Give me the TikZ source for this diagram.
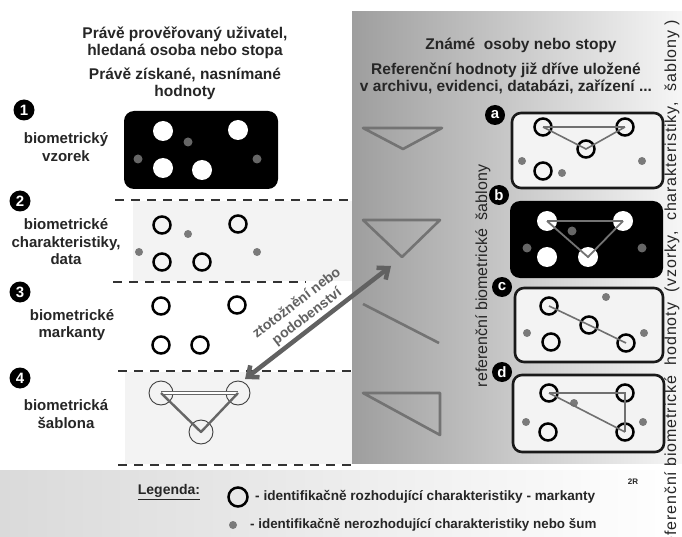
\documentclass[tikz,border=0pt]{standalone}
\usepackage{fontspec}
\setmainfont{Liberation Sans}
\newfontfamily\spacedfont[LetterSpace=5.5]{Liberation Sans}
\usetikzlibrary{arrows.meta}
\definecolor{txt}{HTML}{262626}
\definecolor{dotc}{HTML}{7A7A7A}
\definecolor{linec}{HTML}{707070}
\definecolor{panL}{HTML}{9E9E9E}
\definecolor{panR}{HTML}{F6F6F6}
\definecolor{rowbg}{HTML}{F3F3F3}
\definecolor{boxbg}{HTML}{F3F3F3}
\definecolor{legbg}{HTML}{DADADA}
\begin{document}
\begin{tikzpicture}[x=1pt,y=-1pt,
  title/.style={font=\fontsize{15.5}{17}\selectfont\bfseries, text=txt, align=center, inner sep=0},
  lbl/.style={font=\fontsize{15}{17.5}\selectfont\bfseries, text=txt, align=center, inner sep=0},
  numc/.style={circle, fill=black, text=white, minimum size=21pt, inner sep=0, font=\fontsize{15}{15}\selectfont\bfseries},
  letc/.style={circle, fill=black, text=white, minimum size=20pt, inner sep=0, font=\fontsize{15}{15}\selectfont\bfseries},
  wc/.style={circle, fill=white, minimum size=20pt, inner sep=0},
  mk/.style={circle, draw=black, line width=2.5pt, minimum size=17pt, inner sep=0},
  thinmk/.style={circle, draw=black!75, line width=0.9pt, minimum size=24pt, inner sep=0},
  gdot/.style={circle, fill=dotc, minimum size=8pt, inner sep=0},
  bgdot/.style={circle, fill=black!60, minimum size=9pt, inner sep=0},
  dashline/.style={line width=1.6pt, draw=black!80, dash pattern=on 9pt off 7pt},
  refbox/.style={draw=black!90, line width=2.6pt, rounded corners=9pt, fill=boxbg, inner sep=0},
  blkbox/.style={fill=black, rounded corners=10pt, inner sep=0},
  tline/.style={draw=linec, line width=1.6pt},
  wline/.style={draw=black!55, line width=1.8pt},
  shape4/.style={draw=black!60, line width=2.4pt, line join=round},
  midshape/.style={draw=black!55, line width=2.6pt, line join=round},
  dblarrow/.style={draw=black!62, line width=4.5pt, {Straight Barb[length=9pt,width=15pt]}-{Straight Barb[length=9pt,width=15pt]}}
]
\useasboundingbox (0,0) rectangle (682,537);
\fill[white] (0,0) rectangle (682,537);
% backgrounds
\shade[left color=panL, right color=panR] (352,12) rectangle (682,463);
\shade[left color=legbg, right color=white] (0,470) rectangle (682,537);
\fill[rowbg] (133,201) rectangle (352,281);
\fill[rowbg] (125,372) rectangle (352,464);

% left titles
\node[title] (tl1) at (185,43) {Právě prověřovaný uživatel,\\hledaná osoba nebo stopa};
\node[title] (tl2) at (185,84) {Právě získané, nasnímané\\hodnoty};
% right titles
\node[title] (tr1) at (521,45) {Známé \ osoby nebo stopy};
\node[title] (tr2) at (506,78) {Referenční hodnoty již dříve uložené\\v archivu, evidenci, databázi, zařízení ...};

% left labels
\node[numc] (n1) at (24,110) {1};
\node[lbl] (l1) at (66,147) {biometrický\\vzorek};
\node[numc] (n2) at (20,201) {2};
\node[lbl] (l2) at (66,242) {biometrické\\charakteristiky,\\data};
\node[numc] (n3) at (20,292) {3};
\node[lbl] (l3) at (72,325) {biometrické\\markanty};
\node[numc] (n4) at (20,378) {4};
\node[lbl] (l4) at (66,414) {biometrická\\šablona};

% dashed separators
\draw[dashline] (115,200) -- (352,200);
\draw[dashline] (113,282) -- (306,282);
\draw[dashline] (118,371) -- (352,371);
\draw[dashline] (118,465) -- (352,465);

% row 1: sample
\node[blkbox, minimum width=154pt, minimum height=78pt] (box1) at (201,150) {};
\node[wc] (s1) at (163,131) {};
\node[wc] (s2) at (238,130) {};
\node[wc] (s3) at (163,168) {};
\node[wc] (s4) at (202,170) {};
\node[bgdot] (sd1) at (188,142) {};
\node[bgdot] (sd2) at (138,159) {};
\node[bgdot] (sd3) at (257,159) {};

% row 2: characteristics
\node[mk] (c1) at (162,225) {};
\node[mk] (c2) at (238,224) {};
\node[mk] (c3) at (162,262) {};
\node[mk] (c4) at (202,262) {};
\node[gdot] (cd1) at (188,234) {};
\node[gdot] (cd2) at (139,252) {};
\node[gdot] (cd3) at (257,252) {};

% row 3: minutiae
\node[mk] (m1) at (161,306) {};
\node[mk] (m2) at (237,305) {};
\node[mk] (m3) at (161,345) {};
\node[mk] (m4) at (200,345) {};

% row 4: template
\node[thinmk] (t1) at (161,393) {};
\node[thinmk] (t2) at (238,393) {};
\node[thinmk] (t3) at (201,432) {};
\draw[shape4, double=white, double distance=1.2pt, line width=1.3pt] (t1.center) -- (t2.center);
\draw[shape4] (t1.center) -- (t3.center) -- (t2.center);

% middle column shapes
\draw[midshape] (363,128) -- (442,128) -- (403,149) -- cycle;
\draw[midshape] (363,220) -- (440,220) -- (402,257) -- cycle;
\draw[midshape] (363,304) -- (439,343);
\draw[midshape] (363,393) -- (440,393) -- (440,435) -- cycle;

% double arrow
\coordinate (arrL) at (245,379);
\coordinate (arrR) at (391,266);
\draw[dblarrow] (arrL) -- (arrR);
\node[font=\fontsize{14}{17}\selectfont\bfseries, text=black!62, align=center, rotate=37.5, inner sep=0] (arrtxt) at (302,310) {ztotožnění nebo\\podobenství};

% vertical label
\node[font=\fontsize{16}{16}\selectfont, text=txt, rotate=90, inner sep=0] (vref) at (483,276) {referenční biometrické \ šablony};

% reference box a
\node[refbox, minimum width=151pt, minimum height=75pt] (ba) at (587.5,150.5) {};
\node[letc] (la) at (495,115) {a};
\node[mk] (a1) at (543,127) {};
\node[mk] (a2) at (625,127) {};
\node[mk] (a3) at (586,149) {};
\node[mk] (a4) at (543,171) {};
\node[gdot] (ad1) at (522,161) {};
\node[gdot] (ad2) at (642,161) {};
\node[gdot] (ad3) at (562,173) {};
\draw[tline] (a1.center) -- (a2.center);
\draw[tline] (a1.center) -- (a3.center) -- (a2.center);

% reference box b
\node[blkbox, minimum width=153pt, minimum height=77pt] (bb) at (586.5,239.5) {};
\node[letc] (lb) at (499,195) {b};
\node[wc] (b1) at (547,221) {};
\node[wc] (b2) at (623,221) {};
\node[wc] (b3) at (547,257) {};
\node[wc] (b4) at (588,257) {};
\node[bgdot] (bd1) at (572,231) {};
\node[bgdot] (bd2) at (527,248) {};
\node[bgdot] (bd3) at (642,248) {};
\draw[wline] (b1.center) -- (b2.center);
\draw[wline] (b1.center) -- (b4.center) -- (b2.center);

% reference box c
\node[refbox, minimum width=148pt, minimum height=74pt] (bc) at (589,325) {};
\node[letc] (lc) at (502,287) {c};
\node[mk] (c5) at (549,306) {};
\node[mk] (c6) at (589,325) {};
\node[mk] (c7) at (626,343) {};
\node[mk] (c8) at (551,342) {};
\node[gdot] (ed1) at (606,297) {};
\node[gdot] (ed2) at (527,333) {};
\node[gdot] (ed3) at (644,333) {};
\draw[tline] (c5.center) -- (c6.center) -- (c7.center);

% reference box d
\node[refbox, minimum width=151pt, minimum height=77pt] (bd) at (588.5,413.5) {};
\node[letc] (ld) at (502,372) {d};
\node[mk] (d1) at (549,393) {};
\node[mk] (d2) at (625,393) {};
\node[mk] (d3) at (548,432) {};
\node[mk] (d4) at (625,432) {};
\node[gdot] (fd1) at (574,403) {};
\node[gdot] (fd2) at (526,422) {};
\node[gdot] (fd3) at (643,422) {};
\draw[tline] (d1.center) -- (d2.center) -- (d4.center);
\draw[tline] (d1.center) -- (d4.center);

% right edge vertical text
\node[font=\fontsize{16}{16}\selectfont\spacedfont, text=txt, rotate=90, anchor=east, inner sep=0] (vedge) at (672,20) {referenční biometrické \ hodnoty \ (vzorky, \ charakteristiky, \ šablony )};

% 2R
\node[font=\fontsize{8}{8}\selectfont\bfseries, text=txt, inner sep=0] (tag) at (633,482) {2R};

% legend
\node[font=\fontsize{14}{14}\selectfont\bfseries, text=txt, inner sep=0] (leg) at (169,492) {\underline{Legenda:}};
\node[mk, minimum size=19pt] (lgc) at (238,497) {};
\node[font=\fontsize{13.6}{14}\selectfont\bfseries, text=txt, anchor=west, inner sep=0] (lgt1) at (255,497) {- identifikačně rozhodující charakteristiky - markanty};
\node[gdot] (lgd) at (233,525) {};
\node[font=\fontsize{13.4}{14}\selectfont\bfseries, text=txt, anchor=west, inner sep=0] (lgt2) at (250,525) {- identifikačně nerozhodující charakteristiky nebo šum};
\end{tikzpicture}
\end{document}
